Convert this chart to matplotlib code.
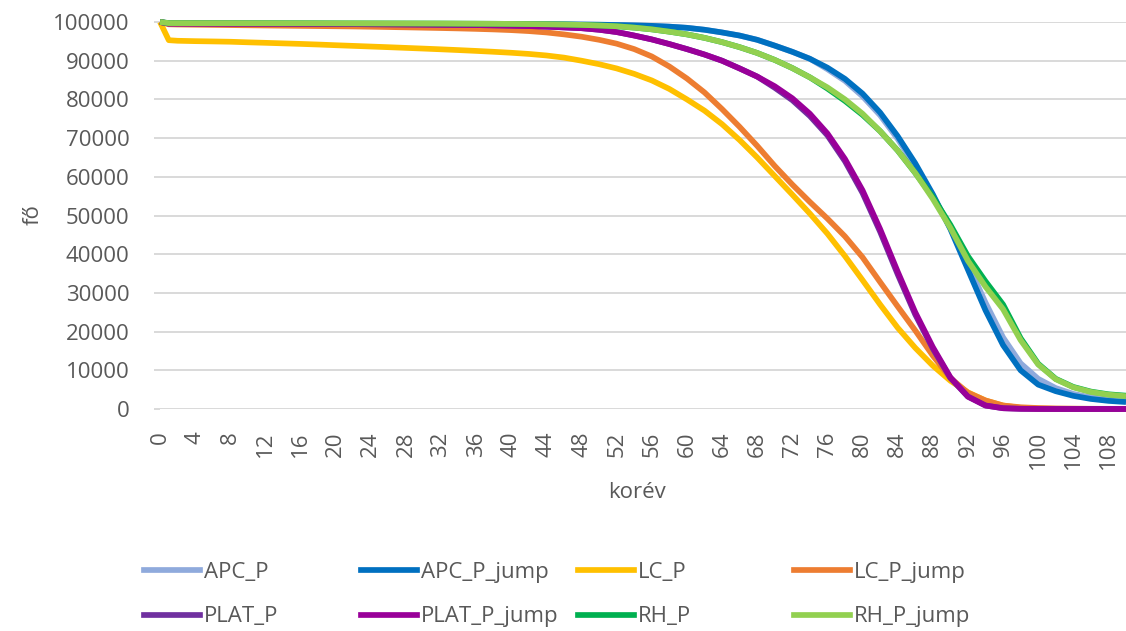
import matplotlib
matplotlib.use("Agg")
import matplotlib.pyplot as plt
from matplotlib.lines import Line2D

plt.rcParams['font.family'] = ['Open Sans', 'DejaVu Sans']

# ages (korév)
ages = [0, 1, 2, 4, 6, 8, 10, 12, 14, 16, 18, 20, 22, 24, 26, 28, 30, 32, 34, 36, 38,
        40, 42, 44, 46, 48, 50, 52, 54, 56, 58, 60, 62, 64, 66, 68, 70, 72, 74, 76, 78,
        80, 82, 84, 86, 88, 90, 92, 94, 96, 98, 100, 102, 104, 106, 108, 110]

APC_P = [100000, 99650, 99640, 99630, 99620, 99610, 99600, 99590, 99580, 99570, 99550,
         99530, 99510, 99500, 99490, 99480, 99470, 99460, 99450, 99440, 99430,
         99420, 99410, 99400, 99380, 99350, 99300, 99230, 99130, 99000, 98800,
         98500, 98000, 97300, 96500, 95400, 93900, 92300, 90500, 87800, 84800,
         80800, 75900, 69800, 62800, 55200, 46800, 37500, 27500, 18500, 11800,
         7800, 5400, 3900, 3000, 2400, 2100]

APC_P_jump = [100000, 99650, 99640, 99630, 99620, 99610, 99600, 99590, 99580, 99570, 99550,
              99530, 99510, 99500, 99490, 99480, 99470, 99460, 99450, 99440, 99430,
              99420, 99410, 99400, 99380, 99350, 99300, 99230, 99130, 99000, 98800,
              98500, 98000, 97300, 96500, 95400, 93900, 92300, 90500, 88200, 85300,
              81500, 76600, 70500, 63500, 55500, 46500, 36000, 25500, 16500, 10000,
              6300, 4600, 3400, 2600, 2100, 1800]

LC_P = [100000, 95300, 95150, 95050, 94980, 94900, 94750, 94620, 94480, 94340, 94180,
        94000, 93830, 93660, 93490, 93310, 93130, 92940, 92740, 92530, 92300,
        92050, 91750, 91350, 90800, 90000, 89100, 88000, 86600, 84900, 82700,
        80000, 77100, 73600, 69500, 65000, 60200, 55400, 50500, 45300, 39500,
        33300, 27000, 21000, 15800, 11200, 7300, 4300, 2200, 900, 300,
        100, 40, 15, 5, 0, 0]

LC_P_jump = [100000, 99400, 99350, 99300, 99250, 99200, 99150, 99100, 99050, 99000, 98950,
             98900, 98850, 98780, 98700, 98620, 98530, 98440, 98340, 98220, 98080,
             97900, 97650, 97300, 96800, 96200, 95400, 94400, 93000, 91100, 88500,
             85400, 81800, 77500, 72900, 68000, 62800, 58000, 53500, 49200, 44600,
             39200, 32800, 26500, 20300, 13800, 8000, 4200, 2200, 900, 450,
             250, 150, 100, 60, 40, 30]

PLAT_P = [100000, 99600, 99590, 99580, 99570, 99560, 99550, 99540, 99530, 99510, 99490,
          99470, 99450, 99420, 99390, 99360, 99330, 99290, 99250, 99200, 99130,
          99050, 98950, 98800, 98600, 98400, 98000, 97400, 96500, 95500, 94300,
          93000, 91600, 90000, 88000, 85900, 83000, 79800, 75700, 70700, 64000,
          55800, 45800, 34800, 24400, 15600, 8000, 3200, 900, 200, 50,
          10, 0, 0, 0, 0, 0]

PLAT_P_jump = [100000, 99600, 99590, 99580, 99570, 99560, 99550, 99540, 99530, 99510, 99490,
               99470, 99450, 99420, 99390, 99360, 99330, 99290, 99250, 99200, 99130,
               99050, 98950, 98800, 98600, 98400, 98000, 97400, 96500, 95500, 94300,
               93000, 91600, 90000, 88000, 85900, 83400, 80300, 76300, 71200, 64600,
               56500, 46500, 35500, 25000, 16000, 8200, 3200, 900, 200, 50,
               10, 0, 0, 0, 0, 0]

RH_P = [100000, 99720, 99710, 99700, 99700, 99700, 99690, 99690, 99680, 99680, 99670,
        99660, 99650, 99640, 99630, 99620, 99610, 99600, 99580, 99560, 99540,
        99510, 99470, 99420, 99350, 99250, 99100, 98900, 98550, 98100, 97500,
        96800, 95900, 94800, 93500, 92000, 90200, 88100, 85700, 82800, 79600,
        76000, 71800, 66800, 61000, 54800, 47600, 39500, 33000, 27000, 18300,
        11700, 7800, 5700, 4500, 3800, 3450]

RH_P_jump = [100000, 99720, 99710, 99700, 99700, 99700, 99690, 99690, 99680, 99680, 99670,
             99660, 99650, 99640, 99630, 99620, 99610, 99600, 99580, 99560, 99540,
             99510, 99470, 99420, 99350, 99250, 99100, 98900, 98550, 98100, 97500,
             96800, 95900, 94800, 93500, 92000, 90200, 88100, 85700, 83100, 80000,
             76300, 71800, 66800, 61000, 54300, 46800, 38300, 31600, 25800, 17800,
             11500, 7700, 5600, 4400, 3700, 3300]

names = ["APC_P", "APC_P_jump", "LC_P", "LC_P_jump",
         "PLAT_P", "PLAT_P_jump", "RH_P", "RH_P_jump"]
values = [APC_P, APC_P_jump, LC_P, LC_P_jump, PLAT_P, PLAT_P_jump, RH_P, RH_P_jump]
colors = ["#8FAADC", "#0070C0", "#FFC000", "#ED7D31",
          "#7030A0", "#990099", "#00B050", "#92D050"]

xtick_vals = list(range(0, 109, 4))
ytick_vals = list(range(0, 100001, 10000))

W, H = 1126, 631
fig = plt.figure(figsize=(W / 100, H / 100), dpi=100)
ax = fig.add_axes([160 / W, 1 - 409 / H, (W - 160) / W, (409 - 22) / H])

lw = 4.1
for name, vals, c in zip(names, values, colors):
    ax.plot(ages, vals, color=c, lw=lw, label=name, clip_on=False,
            solid_joinstyle='round', solid_capstyle='butt')

ax.set_xlim(0, 110)
ax.set_ylim(0, 100000)
ax.set_xticks(xtick_vals)
ax.set_xticklabels([str(v) for v in xtick_vals], rotation=90)
ax.set_yticks(ytick_vals)
ax.set_yticklabels([str(v) for v in ytick_vals])
ax.grid(axis='y', color='#D9D9D9', lw=1.4)
ax.grid(axis='x', visible=False)
ax.set_axisbelow(True)
for s in ax.spines.values():
    s.set_visible(False)
ax.tick_params(axis='x', length=0, pad=16, labelcolor='#595959', labelsize=16)
ax.tick_params(axis='y', length=4, width=1.4, color='#D9D9D9', pad=18,
               labelcolor='#595959', labelsize=16)

fig.text(637 / W, 1 - 493 / H, 'korév', ha='center', va='center',
         fontsize=16, color='#595959')
fig.text(33 / W, 1 - 215 / H, 'fő', ha='center', va='center', rotation=90,
         fontsize=16, color='#595959')

handles = [Line2D([0], [0], color=c, lw=lw) for c in colors]
col_x = [144, 361, 578, 794]
for i, x in enumerate(col_x):
    hs = [handles[i], handles[i + 4]]
    ls = [names[i], names[i + 4]]
    fig.legend(hs, ls, loc='upper left', bbox_to_anchor=(x / W, 1 - 562 / H),
               frameon=False, fontsize=16, handlelength=2.5, handletextpad=0.2,
               borderpad=0, borderaxespad=0, labelspacing=1.05, labelcolor='#595959')

fig.savefig('out.png', dpi=100)
